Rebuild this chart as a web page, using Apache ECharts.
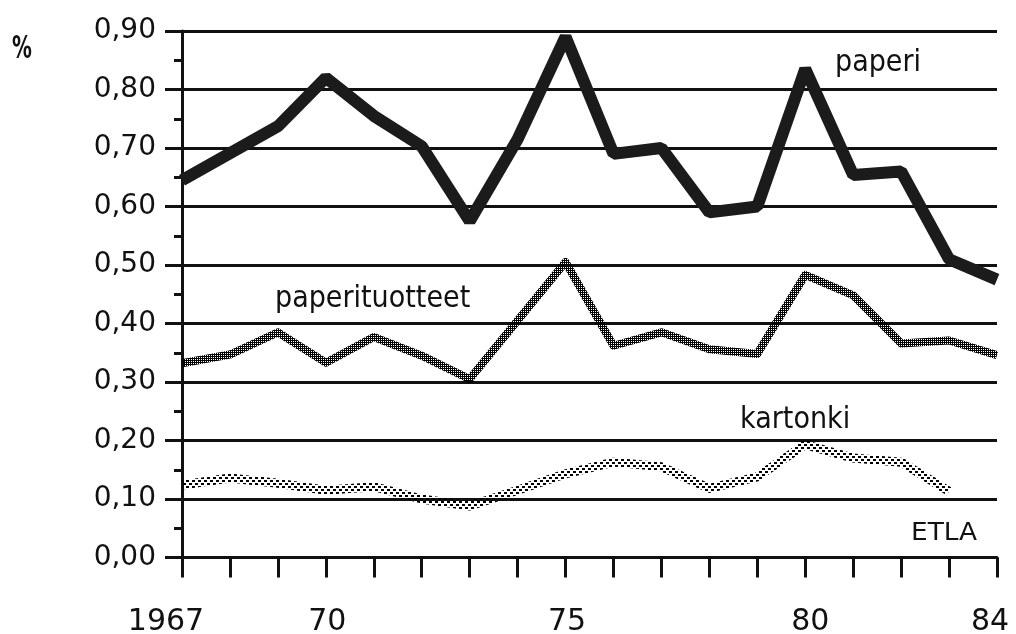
<!DOCTYPE html>
<html>
<head>
<meta charset="utf-8">
<script src="https://cdn.jsdelivr.net/npm/echarts@6/dist/echarts.min.js"></script>
<style>
  html, body { margin: 0; padding: 0; background: #fff; }
  #chart { width: 1016px; height: 634px; }
</style>
</head>
<body>
<div id="chart"></div>
<script>
// ---- data ----
var years = [1967, 1968, 1969, 1970, 1971, 1972, 1973, 1974, 1975, 1976, 1977, 1978, 1979, 1980, 1981, 1982, 1983, 1984];
var paperi = [0.645, 0.691, 0.737, 0.82, 0.755, 0.703, 0.575, 0.715, 0.89, 0.69, 0.70, 0.59, 0.60, 0.835, 0.654, 0.66, 0.51, 0.475];
var paperituotteet = [0.332, 0.347, 0.385, 0.333, 0.377, 0.345, 0.305, 0.405, 0.505, 0.362, 0.385, 0.356, 0.348, 0.483, 0.448, 0.366, 0.371, 0.346];
var kartonki = [0.124, 0.136, 0.127, 0.115, 0.121, 0.100, 0.088, 0.115, 0.143, 0.163, 0.155, 0.118, 0.138, 0.193, 0.170, 0.163, 0.113, null];
var xTickLabels = { 1967: '{l|1967}', 1970: '{c|70}', 1975: '{c|75}', 1980: '{r|80}', 1984: '{e|84}' };
var yMin = 0, yMax = 0.9, yStep = 0.1;

function pairs(arr) {
  var out = [];
  for (var i = 0; i < years.length; i++) out.push([years[i], arr[i]]);
  return out;
}
function makePattern(size, blocks) {
  var c = document.createElement('canvas');
  c.width = size; c.height = size;
  var g = c.getContext('2d');
  g.fillStyle = '#000';
  blocks.forEach(function (b) { g.fillRect(b[0], b[1], b[2], b[3]); });
  return { image: c, repeat: 'repeat' };
}
// paperituotteet: dark cross-hatch with small white holes
var hatch = makePattern(2, [[0, 0, 2, 1], [0, 1, 1, 1]]);
// kartonki: staggered dots
var dots = makePattern(6, [[0, 0, 3, 2], [3, 3, 3, 2]]);

var FONT = 'DejaVu Sans';
var chart = echarts.init(document.getElementById('chart'), null, { renderer: 'canvas' });
chart.setOption({
  animation: false,
  backgroundColor: '#fff',
  grid: { left: 182, right: 19, top: 31, bottom: 76.5, containLabel: false, outerBoundsMode: 'none' },
  xAxis: {
    type: 'value', min: 1967, max: 1984, interval: 1,
    axisLine: { show: true, lineStyle: { color: '#111', width: 3 } },
    axisTick: { show: true, length: 20, lineStyle: { color: '#111', width: 3 } },
    splitLine: { show: false },
    axisLabel: {
      showMinLabel: true, showMaxLabel: true, margin: 50,
      color: '#111', fontFamily: FONT, fontSize: 30,
      formatter: function (v) { return xTickLabels[Math.round(v)] || ''; },
      rich: {
        l: { fontFamily: FONT, fontSize: 30, color: '#111', padding: [0, 32, 0, 0] },
        c: { fontFamily: FONT, fontSize: 30, color: '#111', padding: [0, 0, 0, 3] },
        r: { fontFamily: FONT, fontSize: 30, color: '#111', padding: [0, 0, 0, 10] },
        e: { fontFamily: FONT, fontSize: 30, color: '#111', padding: [0, 14, 0, 0] }
      }
    }
  },
  yAxis: {
    type: 'value', min: yMin, max: yMax, interval: yStep,
    axisLine: { show: true, lineStyle: { color: '#111', width: 3 } },
    axisTick: { show: true, length: 17, lineStyle: { color: '#111', width: 3 } },
    minorTick: { show: true, splitNumber: 2, length: 8, lineStyle: { color: '#111', width: 3 } },
    splitLine: { show: true, lineStyle: { color: '#111', width: 3 } },
    axisLabel: {
      margin: 26, color: '#111', fontFamily: FONT, fontSize: 28,
      formatter: function (v) { return v.toFixed(2).replace('.', ','); }
    }
  },
  series: [
    {
      name: 'kartonki', type: 'line', data: pairs(kartonki), showSymbol: false, symbol: 'none',
      lineStyle: { color: dots, width: 9, join: 'round' }, z: 3
    },
    {
      name: 'paperituotteet', type: 'line', data: pairs(paperituotteet), showSymbol: false, symbol: 'none',
      lineStyle: { color: hatch, width: 8, join: 'round' }, z: 4
    },
    {
      name: 'paperi', type: 'line', data: pairs(paperi), showSymbol: false, symbol: 'none',
      lineStyle: { color: '#1b1b1b', width: 12, join: 'bevel' }, z: 5
    }
  ],
  graphic: [
    { type: 'text', x: 12, y: 50, scaleX: 0.62, style: { text: '%', fontFamily: FONT, fontSize: 32, fontWeight: 'bold', fill: '#111', verticalAlign: 'middle' } },
    { type: 'text', x: 835, y: 63, scaleX: 0.9, style: { text: 'paperi', fontFamily: FONT, fontSize: 30, fill: '#111', verticalAlign: 'middle' } },
    { type: 'text', x: 275, y: 299, scaleX: 0.9, style: { text: 'paperituotteet', fontFamily: FONT, fontSize: 30, fill: '#111', verticalAlign: 'middle' } },
    { type: 'text', x: 740, y: 420, scaleX: 0.9, style: { text: 'kartonki', fontFamily: FONT, fontSize: 30, fill: '#111', verticalAlign: 'middle' } },
    { type: 'text', x: 911, y: 534, scaleX: 1.1, style: { text: 'ETLA', fontFamily: FONT, fontSize: 24, fill: '#111', verticalAlign: 'middle' } }
  ]
});
</script>
</body>
</html>
